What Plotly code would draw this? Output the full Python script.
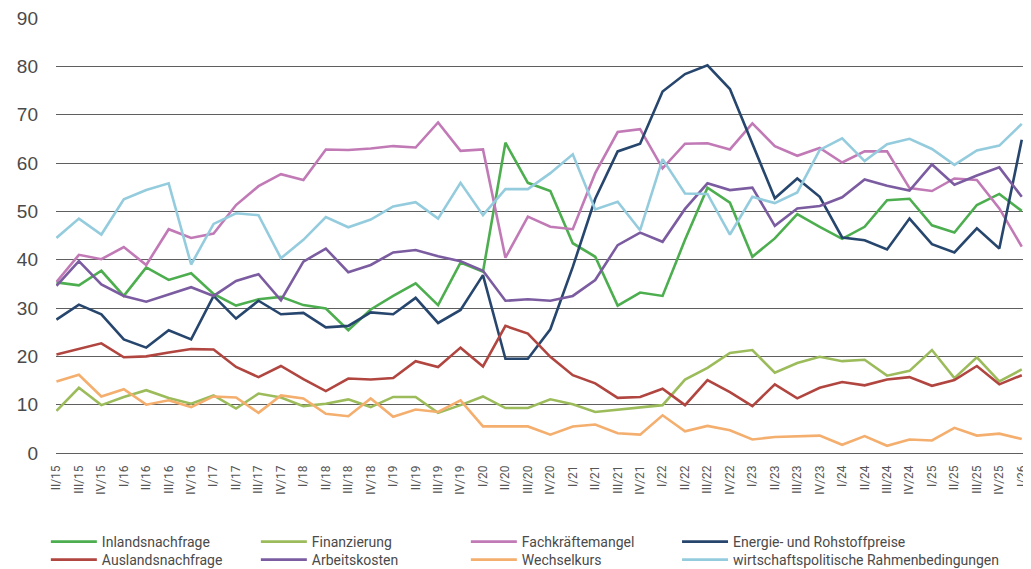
import plotly.graph_objects as go

quarters = ["II/15","III/15","IV/15","I/16","II/16","III/16","IV/16","I/17","II/17","III/17","IV/17",
            "I/18","II/18","III/18","IV/18","I/19","II/19","III/19","IV/19","I/20","II/20","III/20","IV/20",
            "I/21","II/21","III/21","IV/21","I/22","II/22","III/22","IV/22","I/23","II/23","III/23","IV/23",
            "I/24","II/24","III/24","IV/24","I/25","II/25","III/25","IV/25","I/26"]

inlandsnachfrage = [35.3,34.7,37.7,32.5,38.4,35.8,37.2,32.9,30.5,31.8,32.3,30.6,29.9,25.4,
                    29.7,32.5,35.1,30.6,39.4,37.5,64.2,55.9,54.2,43.4,40.6,30.5,33.2,32.5,44.1,
                    54.9,51.8,40.6,44.4,49.4,46.8,44.3,46.8,52.3,52.6,47.1,45.6,51.3,53.6,50.1]
finanzierung = [8.7,13.5,9.9,11.6,13.0,11.4,10.2,11.9,9.2,12.3,11.5,9.7,10.2,11.1,
                9.5,11.6,11.6,8.3,9.9,11.7,9.3,9.3,11.1,10.1,8.5,9.0,9.5,9.9,15.2,
                17.6,20.7,21.3,16.6,18.6,19.9,19.0,19.3,16.0,17.0,21.3,15.5,19.8,14.8,17.3]
fachkraeftemangel = [35.4,41.0,40.1,42.6,38.9,46.3,44.5,45.4,51.3,55.2,57.7,56.5,62.8,62.7,
                     63.0,63.5,63.2,68.4,62.5,62.8,40.4,48.9,46.8,46.3,57.9,66.4,67.0,58.9,64.0,
                     64.1,62.8,68.2,63.5,61.5,63.1,60.1,62.4,62.4,54.8,54.2,56.8,56.5,50.6,42.7]
energie = [27.6,30.7,28.7,23.5,21.8,25.4,23.5,32.5,27.8,31.5,28.7,29.0,26.0,26.3,
           29.1,28.7,32.1,26.9,29.6,36.8,19.5,19.5,25.6,38.5,52.6,62.4,64.0,74.8,78.4,
           80.2,75.3,64.1,52.7,56.8,53.0,44.6,44.0,42.1,48.5,43.2,41.5,46.5,42.3,64.8]
auslandsnachfrage = [20.4,21.6,22.7,19.8,20.0,20.8,21.5,21.4,17.8,15.7,18.0,15.3,12.8,15.4,
                     15.2,15.5,19.0,17.8,21.8,17.9,26.3,24.7,19.9,16.1,14.4,11.4,11.6,13.3,9.9,
                     15.1,12.6,9.7,14.2,11.3,13.5,14.7,14.0,15.2,15.7,13.9,15.1,18.0,14.2,16.1]
arbeitskosten = [34.6,39.7,34.9,32.5,31.3,32.8,34.3,32.5,35.6,37.0,31.6,39.6,42.3,37.4,
                 38.9,41.5,42.0,40.7,39.7,37.7,31.5,31.8,31.5,32.5,35.8,43.0,45.6,43.7,50.5,
                 55.8,54.4,54.9,47.0,50.6,51.1,52.9,56.6,55.3,54.3,59.7,55.5,57.4,59.1,53.0]
wechselkurs = [14.8,16.2,11.7,13.2,10.0,10.9,9.5,11.7,11.5,8.3,11.9,11.3,8.1,7.6,
               11.3,7.5,9.0,8.5,10.9,5.5,5.5,5.5,3.8,5.5,5.9,4.1,3.8,7.8,4.5,
               5.6,4.7,2.8,3.3,3.5,3.6,1.7,3.5,1.5,2.8,2.6,5.2,3.6,4.0,2.9]
rahmenbedingungen = [44.5,48.5,45.2,52.5,54.4,55.8,39.0,47.4,49.6,49.2,40.3,44.1,48.8,46.7,
                     48.3,51.0,51.9,48.5,55.9,49.2,54.6,54.6,57.9,61.8,50.4,52.0,46.1,60.8,53.7,
                     53.6,45.2,53.0,51.7,53.9,62.7,65.1,60.4,63.9,65.0,62.9,59.6,62.6,63.6,68.1]

# (name, values, colour, legend group box)
series = [
    ("Inlandsnachfrage", inlandsnachfrage, "#4DAE4F", "legend"),
    ("Finanzierung", finanzierung, "#9CBC5B", "legend"),
    ("Fachkräftemangel", fachkraeftemangel, "#C17AB6", "legend"),
    ("Energie- und Rohstoffpreise", energie, "#27466E", "legend3"),
    ("Auslandsnachfrage", auslandsnachfrage, "#B1453F", "legend2"),
    ("Arbeitskosten", arbeitskosten, "#7B5CA0", "legend2"),
    ("Wechselkurs", wechselkurs, "#F4AE6E", "legend2"),
    ("wirtschaftspolitische Rahmenbedingungen", rahmenbedingungen, "#94CCDE", "legend4"),
]

fig = go.Figure()
for name, vals, color, leg in series:
    fig.add_trace(go.Scatter(x=quarters, y=vals, name=name, mode="lines", legend=leg,
                             line=dict(color=color, width=2.6)))

legend_style = dict(orientation="h", xref="container", yref="container",
                    xanchor="left", yanchor="top", itemwidth=46,
                    font=dict(size=14, color="#4a4a4a", family="Roboto, sans-serif"),
                    tracegroupgap=0, traceorder="normal", bgcolor="rgba(0,0,0,0)")

row1_y, row2_y = 0.0766, 0.0446
fig.update_layout(
    width=1023, height=561,
    margin=dict(l=48, r=7, t=10, b=116, autoexpand=False),
    paper_bgcolor="white", plot_bgcolor="white",
    font=dict(family="Roboto, Liberation Sans, sans-serif", color="#4a4a4a"),
    showlegend=True,
    legend=dict(legend_style, x=0.037, y=row1_y, entrywidth=149, entrywidthmode="pixels"),
    legend2=dict(legend_style, x=0.037, y=row2_y, entrywidth=149, entrywidthmode="pixels"),
    legend3=dict(legend_style, x=0.654, y=row1_y),
    legend4=dict(legend_style, x=0.654, y=row2_y),
)
fig.update_xaxes(type="category", range=[-0.02, 43.1], showgrid=False, zeroline=False,
                 showline=False, ticks="", tickangle=-90, ticklabelstandoff=9,
                 tickfont=dict(size=12, color="#555555", family="Roboto, sans-serif"))
fig.update_yaxes(range=[0, 90], dtick=10, showgrid=True, gridcolor="#5f5f5f", gridwidth=1.2,
                 zeroline=True, zerolinecolor="#5f5f5f", zerolinewidth=1.2, showline=False,
                 ticks="", ticklabelstandoff=17, ticklabeloverflow="allow",
                 tickfont=dict(size=19, color="#4a4a4a", family="Liberation Sans, Arial, sans-serif"))

fig.write_html("out.html")
